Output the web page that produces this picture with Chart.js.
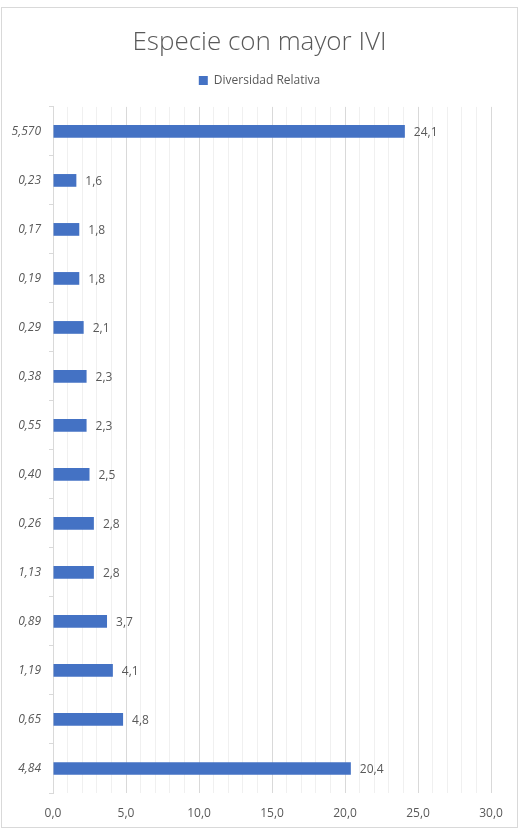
<!DOCTYPE html>
<html>
<head>
<meta charset="utf-8">
<script src="https://cdn.jsdelivr.net/npm/chart.js@4/dist/chart.umd.min.js"></script>
<style>
  body { margin: 0; background: #fff; }
  #frame { position: absolute; left: 1px; top: 7px; width: 517px; height: 821px; border: 1px solid #d9d9d9; box-sizing: border-box; }
  #graphic { display: block; }
</style>
</head>
<body>
<div id="frame"><canvas id="graphic" width="515" height="819"></canvas></div>
<script>
const categories = ['5,570', '0,23', '0,17', '0,19', '0,29', '0,38', '0,55', '0,40', '0,26', '1,13', '0,89', '1,19', '0,65', '4,84'];
const diversidad = [24.1, 1.6, 1.8, 1.8, 2.1, 2.3, 2.3, 2.5, 2.8, 2.8, 3.7, 4.1, 4.8, 20.4];
const xTicks = [0, 5, 10, 15, 20, 25, 30];

const fmt = v => v.toFixed(1).replace('.', ',');
const textColor = '#595959';

/* etiquetas de valor al final de cada barra */
const barLabels = {
  id: 'barLabels',
  afterDatasetsDraw(chart) {
    const ctx = chart.ctx;
    const meta = chart.getDatasetMeta(0);
    ctx.save();
    ctx.font = '12px "Open Sans"';
    ctx.fillStyle = textColor;
    ctx.textAlign = 'left';
    ctx.textBaseline = 'middle';
    meta.data.forEach((bar, i) => {
      ctx.fillText(fmt(diversidad[i]), bar.x + 9, bar.y + 1);
    });
    ctx.restore();
  }
};

/* espacio extra debajo de la leyenda */
const legendGap = {
  id: 'legendGap',
  beforeLayout(chart) {
    const lg = chart.legend;
    if (lg && !lg._gap) {
      const fit = lg.fit.bind(lg);
      lg.fit = function () { fit(); this.height += 10.5; };
      lg._gap = true;
    }
  }
};

const data = {
  labels: categories,
  datasets: [{
    label: 'Diversidad Relativa',
    data: diversidad,
    backgroundColor: '#4472c4',
    borderWidth: 0,
    categoryPercentage: 1,
    barPercentage: 0.26
  }]
};

const config = {
  type: 'bar',
  data: data,
  options: {
    indexAxis: 'y',
    responsive: false,
    animation: false,
    layout: { padding: { left: 0, right: 0, top: 0, bottom: 5 } },
    plugins: {
      title: {
        display: true,
        text: 'Especie con mayor IVI',
        color: textColor,
        font: { family: 'Open Sans', size: 26, weight: '300', lineHeight: 0.9 },
        padding: { top: 23, bottom: 0 }
      },
      legend: {
        display: true,
        labels: {
          color: textColor,
          font: { family: 'Open Sans', size: 12 },
          boxWidth: 9,
          boxHeight: 9,
          padding: 20
        }
      },
      tooltip: { enabled: false }
    },
    scales: {
      x: {
        min: 0,
        max: 30,
        afterFit: scale => { scale.height = 29; },
        afterBuildTicks: scale => {
          const t = [];
          for (let v = 0; v <= 30; v++) t.push({ value: v });
          scale.ticks = t;
        },
        ticks: {
          autoSkip: false,
          maxRotation: 0,
          color: textColor,
          font: { family: 'Open Sans', size: 12 },
          padding: 13,
          callback: v => xTicks.includes(v) ? fmt(v) : ''
        },
        grid: {
          drawTicks: false,
          color: c => xTicks.includes(c.tick.value) ? '#d9d9d9' : '#f0f0f0'
        },
        border: { display: false }
      },
      y: {
        afterFit: scale => { scale.width = 51; },
        ticks: {
          color: textColor,
          font: { family: 'Open Sans', size: 12, style: 'italic' },
          padding: 8
        },
        grid: {
          offset: true,
          drawOnChartArea: false,
          drawTicks: true,
          tickLength: 4,
          color: '#d9d9d9'
        },
        border: { display: true, color: '#d9d9d9' }
      },
      /* eje vacio a la derecha, solo reserva margen */
      yR: {
        position: 'right',
        afterFit: scale => { scale.width = 26; },
        ticks: { display: false },
        grid: { display: false },
        border: { display: false }
      }
    }
  },
  plugins: [barLabels, legendGap]
};

new Chart(document.querySelector('#graphic'), config);
</script>
</body>
</html>
